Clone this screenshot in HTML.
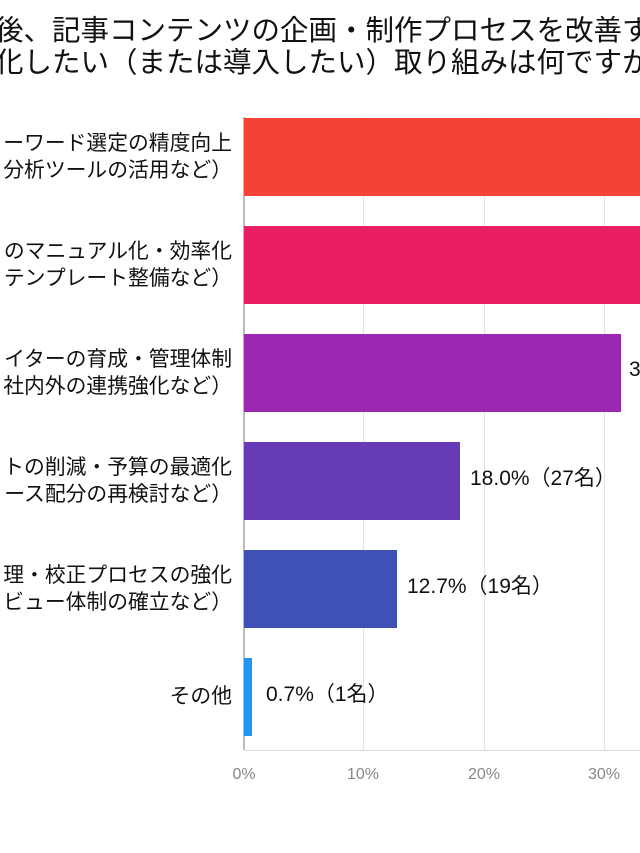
<!DOCTYPE html>
<html><head><meta charset="utf-8"><style>
body{margin:0;width:640px;height:853px;background:#fff;overflow:hidden;position:relative;font-family:"Liberation Sans","Noto Sans CJK JP",sans-serif;}
.t{position:absolute;white-space:nowrap;color:#111;}
.title{font-size:28.5px;left:-5px;line-height:32px;}
.lab{font-size:20.8px;right:408px;text-align:right;line-height:27px;}
.g{position:absolute;top:117px;width:1px;height:633px;background:#e2e2e2;}
.bar{position:absolute;left:244px;height:78px;}
.v{font-size:21px;line-height:24px;}
.tick{position:absolute;top:766px;font-size:16px;color:#888;width:60px;text-align:center;}
</style></head><body>
<div class="t title" style="top:15px">後、記事コンテンツの企画・制作プロセスを改善する</div>
<div class="t title" style="top:47px">化したい（または導入したい）取り組みは何ですか</div>
<div class="g" style="left:363px"></div>
<div class="g" style="left:484px"></div>
<div class="g" style="left:604px"></div>
<div style="position:absolute;left:243px;top:117px;width:2px;height:633px;background:#bbb"></div>
<div style="position:absolute;left:244px;top:750px;width:396px;height:1px;background:#ddd"></div>
<div class="bar" style="top:118px;width:400px;background:#F44336"></div>
<div class="bar" style="top:226px;width:400px;background:#E91E63"></div>
<div class="bar" style="top:334px;width:377px;background:#9C27B0"></div>
<div class="bar" style="top:442px;width:216px;background:#673AB7"></div>
<div class="bar" style="top:550px;width:153px;background:#3F51B5"></div>
<div class="bar" style="top:658px;width:8px;background:#2196F3"></div>
<div class="t lab" style="top:130px">ーワード選定の精度向上<br>分析ツールの活用など）</div>
<div class="t lab" style="top:238px">のマニュアル化・効率化<br>テンプレート整備など）</div>
<div class="t lab" style="top:346px">イターの育成・管理体制<br>社内外の連携強化など）</div>
<div class="t lab" style="top:454px">トの削減・予算の最適化<br>ース配分の再検討など）</div>
<div class="t lab" style="top:562px">理・校正プロセスの強化<br>ビュー体制の確立など）</div>
<div class="t lab" style="top:683px">その他</div>
<div class="t v" style="left:629px;top:358px">3</div>
<div class="t v" style="left:470px;top:467px">18.0%（27名）</div>
<div class="t v" style="left:407px;top:575px">12.7%（19名）</div>
<div class="t v" style="left:266px;top:683px">0.7%（1名）</div>
<div class="tick" style="left:214px">0%</div>
<div class="tick" style="left:333px">10%</div>
<div class="tick" style="left:454px">20%</div>
<div class="tick" style="left:574px">30%</div>
</body></html>
